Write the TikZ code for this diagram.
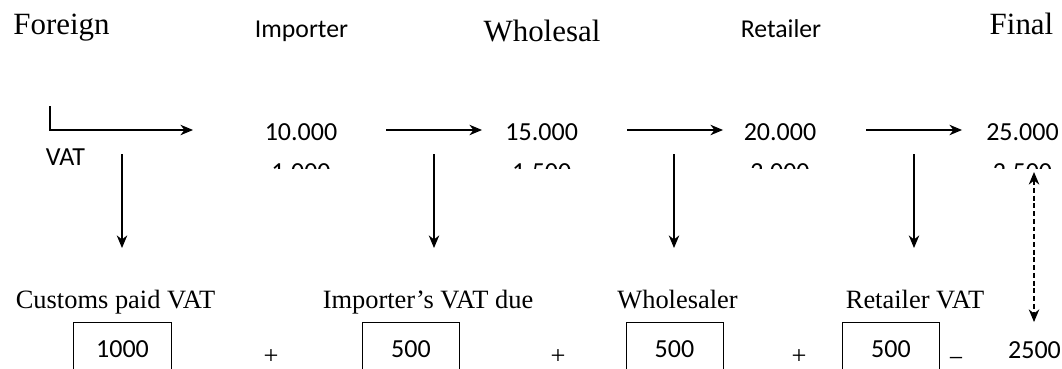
\documentclass[tikz,border=0pt]{standalone}
\usepackage{fontspec}
\setmainfont{Liberation Serif}
\newfontfamily\calibri{Carlito}
\usetikzlibrary{arrows.meta, positioning}

\begin{document}
\begin{tikzpicture}[x=0.025cm, y=-0.025cm,
    stage/.style={anchor=base, inner sep=0pt, font=\fontsize{22}{26}\selectfont},
    party/.style={anchor=base, inner sep=0pt, font=\calibri\fontsize{18.3}{22}\selectfont},
    amount/.style={anchor=base, inner sep=0pt, font=\calibri\fontsize{18.5}{22}\selectfont},
    duelabel/.style={anchor=base, inner sep=0pt, font=\fontsize{18.8}{22}\selectfont},
    vatbox/.style={draw, line width=0.7pt, minimum width=2.425cm,
                   minimum height=1.35cm, inner sep=0pt, anchor=north,
                   font=\calibri\fontsize{18.5}{22}\selectfont},
    oper/.style={inner sep=0pt, font=\fontsize{18.8}{22}\selectfont},
    flow/.style={-{Stealth[length=9pt, width=7.5pt]}, line width=0.75pt},
    twoway/.style={{Stealth[length=9pt, width=7.5pt]}-{Stealth[length=9pt, width=7.5pt]},
                   line width=0.75pt, dash pattern=on 3.5pt off 2pt},
  ]
    \useasboundingbox (0,0) rectangle (1062,368);
    \clip (0,0) rectangle (1062,368);

    % stages of the chain
    \node[stage] (foreign) at (61.5,34) {Foreign};
    \node[party] (importer) at (301.5,37) {Importer};
    \node[stage] (wholesal) at (542,41) {Wholesal};
    \node[party] (retailer) at (781,37) {Retailer};
    \node[stage] (final) at (1021.5,34) {Final};

    % prices and VAT (second line cut by the text boxes)
    \node[amount] (vat) at (65.5,165) {VAT};
    \node[amount] (p1) at (301,140) {10.000};
    \node[amount] (p2) at (541.7,140) {15.000};
    \node[amount] (p3) at (780,140) {20.000};
    \node[amount] (p4) at (1022.5,140) {25.000};
    \begin{scope}
      \clip (0,120) rectangle (1062,168);
      \node[amount] (t1) at (301,180) {1.000};
      \node[amount] (t2) at (541.7,180) {1.500};
      \node[amount] (t3) at (780,180) {2.000};
      \node[amount] (t4) at (1022.5,180) {2.500};
    \end{scope}

    % VAT collected at each stage
    \node[duelabel] (l1) at (115.5,308) {Customs paid VAT};
    \node[duelabel] (l2) at (428,308) {Importer’s VAT due};
    \node[duelabel] (l3) at (677.5,308) {Wholesaler};
    \node[duelabel] (l4) at (915,308) {Retailer VAT};
    \node[vatbox] (b1) at (122.5,322) {1000};
    \node[vatbox] (b2) at (411,322) {500};
    \node[vatbox] (b3) at (674.5,322) {500};
    \node[vatbox] (b4) at (891,322) {500};
    \node[amount] (total) at (1034.5,358) {2500};
    \begin{scope}
      \clip (0,330) rectangle (1062,360.5);
      \node[oper] (s1) at (271,357) {+};
      \node[oper] (s2) at (558,357) {+};
      \node[oper] (s3) at (799,357) {+};
      \node[oper] (eq) at (956,363) {=};
    \end{scope}

    % arrow ends
    \coordinate (c0) at (50,106);
    \coordinate (h0) at (193,130);
    \coordinate (h1a) at (386,130);  \coordinate (h1b) at (482,130);
    \coordinate (h2a) at (627,130);  \coordinate (h2b) at (723,130);
    \coordinate (h3a) at (866,130);  \coordinate (h3b) at (962,130);
    \coordinate (v1a) at (122,154);  \coordinate (v1b) at (122,248);
    \coordinate (v2a) at (434,154);  \coordinate (v2b) at (434,248);
    \coordinate (v3a) at (674,154);  \coordinate (v3b) at (674,248);
    \coordinate (v4a) at (914,154);  \coordinate (v4b) at (914,248);
    \coordinate (da) at (1034,172);  \coordinate (db) at (1034,322);

    \draw[flow] (c0) |- (h0);
    \draw[flow] (h1a) -- (h1b);
    \draw[flow] (h2a) -- (h2b);
    \draw[flow] (h3a) -- (h3b);
    \draw[flow] (v1a) -- (v1b);
    \draw[flow] (v2a) -- (v2b);
    \draw[flow] (v3a) -- (v3b);
    \draw[flow] (v4a) -- (v4b);
    \draw[twoway] (da) -- (db);
\end{tikzpicture}
\end{document}
